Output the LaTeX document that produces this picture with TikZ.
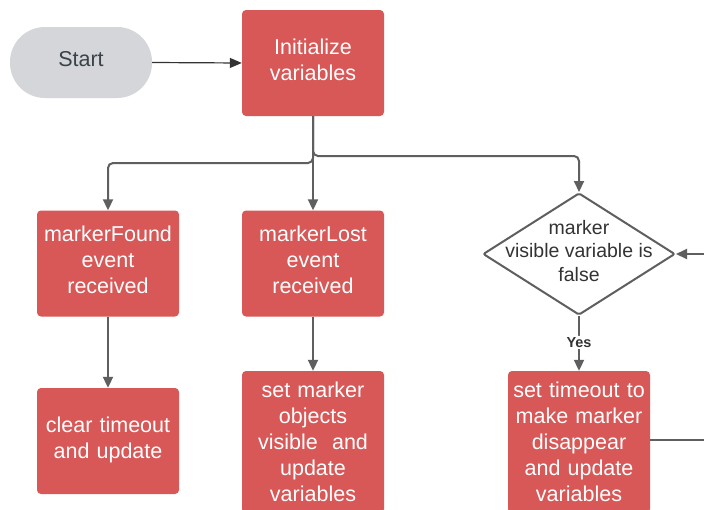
\documentclass[tikz,border=0pt]{standalone}
\usepackage{fontspec}
\setmainfont{Liberation Sans}
\usetikzlibrary{arrows.meta,shapes.geometric}
\definecolor{boxred}{HTML}{D85757}
\definecolor{pillgrey}{HTML}{D4D6D9}
\definecolor{lineg}{HTML}{5F5F5F}
\definecolor{inkdark}{HTML}{3A424A}
\definecolor{diamink}{HTML}{333333}

\begin{document}
\begin{tikzpicture}[x=1pt,y=-1pt,
  boxfont/.style={font=\fontsize{21.5}{26}\selectfont},
  % fixed line struts so that text sits a little above the box centre
  liftedtext/.style={execute at begin node={\rule{0pt}{17pt}},
    execute at end node={\rule[-9pt]{0pt}{9pt}}},
  tall/.style={fill=boxred, rounded corners=4pt, text=white, align=center,
    boxfont, minimum width=142pt, minimum height=142pt, inner sep=0pt,
    text width=140pt},
  proc/.style={tall, minimum height=106pt, liftedtext},
  pill/.style={fill=pillgrey, rounded corners=35pt, minimum width=142pt,
    minimum height=71pt, text=inkdark, boxfont, liftedtext},
  conn/.style={draw=lineg, line width=2pt,
    -{Triangle[length=11pt,width=10pt]}, rounded corners=5pt},
  plainconn/.style={draw=lineg, line width=2pt},
  thinconn/.style={draw=diamink, line width=1.2pt,
    -{Triangle[length=12pt,width=10pt]}}]

\useasboundingbox (0,0) rectangle (704,509);
\clip (0,0) rectangle (704,509);
\fill[white] (0,0) rectangle (704,509);

% process boxes
\node[pill] (start) at (81,62.5) {Start};
\node[proc] (init) at (313,63) {Initialize\\variables};
\node[proc] (found) at (108,263.5) {markerFound\\event\\received};
\node[proc] (lost) at (313,263.5) {markerLost\\event\\received};
\node[proc] (clear) at (108,441) {clear timeout\\and update};
\node[tall] (setvis) at (313,442) {set marker\\objects\\visible~~and\\update\\variables};
\node[tall] (settime) at (579,442) {set timeout to\\make marker\\disappear\\and update\\variables};

% decision
\node[diamond, draw=lineg, line width=2pt, fill=white, rounded corners=2pt,
  minimum width=192pt, minimum height=122pt, inner sep=0pt] (diam) at (579,254) {};
\node[align=center, text=diamink, font=\fontsize{19.5}{23.5}\selectfont,
  inner sep=0pt] (diamtext) at (579,251) {marker\\visible variable is\\false};

% free ends on the right edge
\coordinate (rin) at (704,254);
\coordinate (rout) at (704,440);

% connectors
\draw[thinconn] (start.east) -- (init.west);
\draw[conn] (init.south) |- (108,163) -- (found.north);
\draw[conn] (init.south) -- (lost.north);
\draw[conn] (init.south) |- (579,156) -- (diam.north);
\draw[conn] (found.south) -- (clear.north);
\draw[conn] (lost.south) -- (setvis.north);
\draw[conn] (diam.south) -- (settime.north)
  node[pos=0.48, fill=white, inner sep=1.5pt, text=diamink,
    font=\bfseries\fontsize{14.5}{16}\selectfont] (yes) {Yes};
\draw[conn] (rin) -- (diam.east);
\draw[plainconn] (settime.east |- rout) -- (rout);

\end{tikzpicture}
\end{document}
